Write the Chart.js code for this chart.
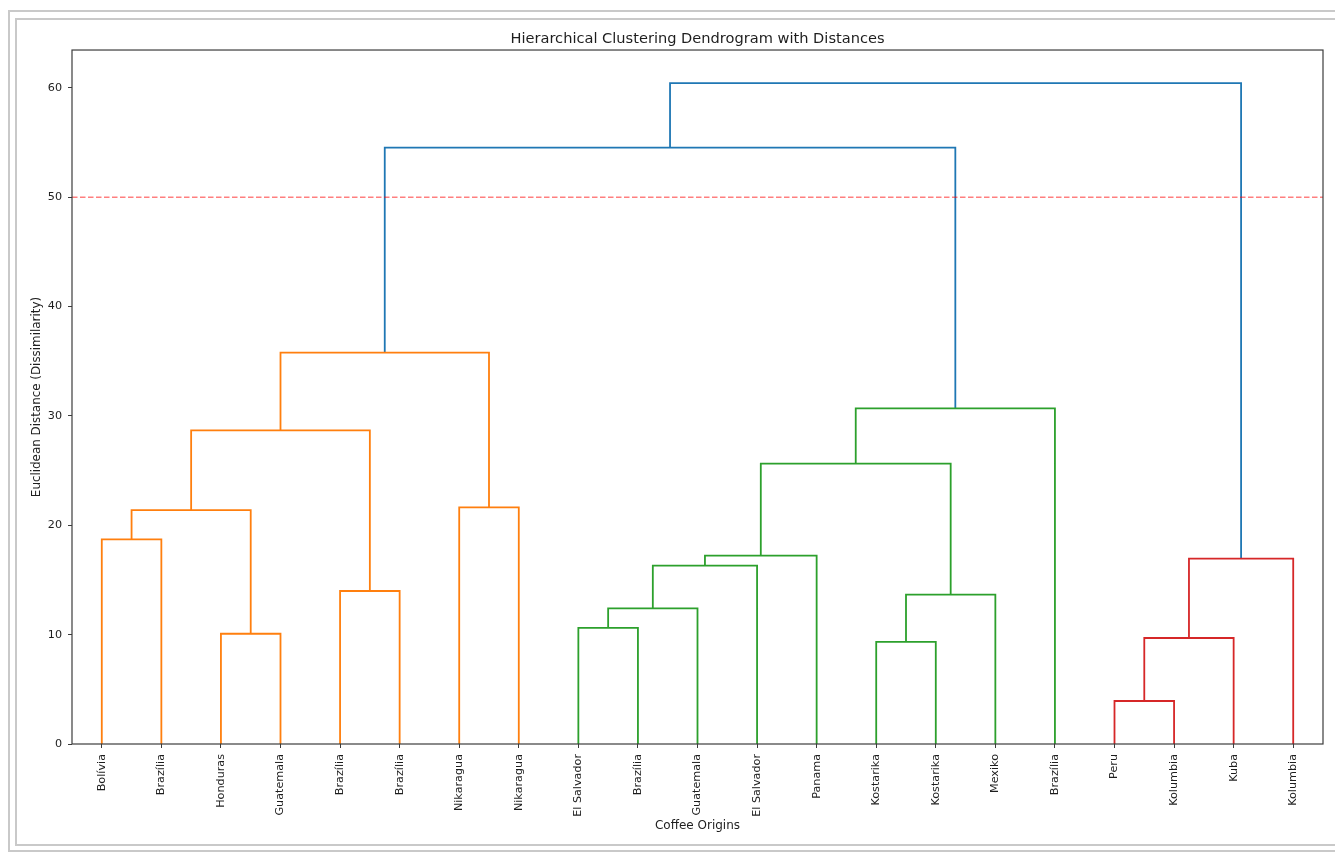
<!DOCTYPE html>
<html><head><meta charset="utf-8">
<script src="https://cdn.jsdelivr.net/npm/chart.js@4.4.0/dist/chart.umd.min.js"></script>
<style>
html,body{margin:0;padding:0;background:#fff;}
#wrap{position:relative;width:1335px;height:854px;overflow:hidden;background:#fff;}
canvas{position:absolute;left:0;top:0;}
.f{position:absolute;border:2px solid #c9c9c9;pointer-events:none;box-sizing:border-box;}
</style></head><body>
<div id="wrap">
<canvas id="c" width="1335" height="854"></canvas>
<div class="f" style="left:8px;top:10px;width:1340px;height:842px"></div>
<div class="f" style="left:15px;top:18px;width:1330px;height:828px"></div>
</div>
<script>
// Leaves in dendrogram order
const leafLabels = ['Bolívia','Brazília','Honduras','Guatemala','Brazília','Brazília','Nikaragua','Nikaragua',
  'El Salvador','Brazília','Guatemala','El Salvador','Panama','Kostarika','Kostarika','Mexiko','Brazília',
  'Peru','Kolumbia','Kuba','Kolumbia'];
// Merges (scipy-like): node ids 0..20 are leaves, 21+ are merges in this order
const mergeLeft   = [17, 13, 21,  2,  8, 25, 22,  4, 26, 23, 29,  0, 32,  6, 31, 33, 35, 36, 38, 39];
const mergeRight  = [18, 14, 19,  3,  9, 10, 15,  5, 11, 20, 12,  1, 24,  7, 27, 28, 16, 34, 37, 30];
const mergeHeight = [3.93, 9.33, 9.69, 10.08, 10.61, 12.40, 13.65, 13.99, 16.30, 16.94, 17.22, 18.71,
  21.39, 21.64, 25.63, 28.68, 30.69, 35.78, 54.52, 60.43];
const cutHeight = 50;
const yTicks = [0, 10, 20, 30, 40, 50, 60];

const palette = ['#ff7f0e', '#2ca02c', '#d62728', '#9467bd', '#8c564b'];
const aboveColor = '#1f77b4';
const FONT = 'DejaVu Sans';
const TXT = '#1e1e1e';
const AX = '#3c3c3c';

const n = leafLabels.length;
const leafPos = leafLabels.map((_, i) => 5 + 10 * i);
const nodeX = leafPos.slice();
const nodeH = leafLabels.map(() => 0);
mergeLeft.forEach((l, k) => {
  nodeX.push((nodeX[l] + nodeX[mergeRight[k]]) / 2);
  nodeH.push(mergeHeight[k]);
});
const maxH = Math.max(...mergeHeight);
const colorThreshold = 0.7 * maxH;
// cluster colouring: find roots below threshold, assign colours by leftmost leaf
const parent = {};
mergeLeft.forEach((l, k) => { parent[l] = n + k; parent[mergeRight[k]] = n + k; });
function minLeaf(id) { return id < n ? id : Math.min(minLeaf(mergeLeft[id - n]), minLeaf(mergeRight[id - n])); }
const roots = [];
mergeHeight.forEach((h, k) => {
  const id = n + k;
  if (h < colorThreshold && !(parent[id] !== undefined && mergeHeight[parent[id] - n] < colorThreshold)) roots.push(id);
});
roots.sort((a, b) => minLeaf(a) - minLeaf(b));
const rootColor = {};
roots.forEach((r, i) => rootColor[r] = palette[i % palette.length]);
function linkColor(id) {
  if (mergeHeight[id - n] >= colorThreshold) return aboveColor;
  let cur = id;
  while (rootColor[cur] === undefined) cur = parent[cur];
  return rootColor[cur];
}

const datasets = [{
  data: [{x: 0, y: cutHeight}, {x: 10 * n, y: cutHeight}],
  borderColor: 'rgba(255,0,0,0.5)', borderWidth: 1.5, borderDash: [5.5, 2.5],
  showLine: true, pointRadius: 0, fill: false
}];
mergeLeft.forEach((l, k) => {
  const r = mergeRight[k], id = n + k;
  datasets.push({
    data: [{x: nodeX[l], y: nodeH[l]}, {x: nodeX[l], y: nodeH[id]}, {x: nodeX[r], y: nodeH[id]}, {x: nodeX[r], y: nodeH[r]}],
    borderColor: linkColor(id), borderWidth: 1.8, showLine: true, pointRadius: 0, fill: false, tension: 0
  });
});

const frame = {
  id: 'frame',
  afterDraw(chart) {
    const {ctx, chartArea: a} = chart;
    ctx.save();
    ctx.strokeStyle = AX; ctx.lineWidth = 1.2;
    ctx.strokeRect(a.left, a.top, a.right - a.left, a.bottom - a.top);
    ctx.restore();
  }
};

new Chart(document.getElementById('c'), {
  type: 'scatter',
  data: {datasets},
  plugins: [frame],
  options: {
    responsive: false, animation: false, devicePixelRatio: 1,
    layout: {padding: {left: 0, right: 12, top: 0, bottom: 0}},
    plugins: {
      legend: {display: false}, tooltip: {enabled: false},
      title: {display: true, text: 'Hierarchical Clustering Dendrogram with Distances', fullSize: false,
        font: {family: FONT, size: 14.6, weight: 'normal'}, color: TXT, padding: {top: 30, bottom: 2.5}}
    },
    scales: {
      x: {
        type: 'linear', min: 0, max: 10 * n,
        afterFit(s) { s.height = 110; },
        afterBuildTicks(s) { s.ticks = leafPos.map(v => ({value: v})); },
        ticks: {autoSkip: false, minRotation: 90, maxRotation: 90, padding: 6, color: TXT,
          font: {family: FONT, size: 11.2}, callback: (v, i) => leafLabels[i]},
        grid: {drawOnChartArea: false, drawTicks: true, tickLength: 4, tickColor: AX, tickWidth: 1},
        border: {display: false},
        title: {display: true, text: 'Coffee Origins', color: TXT, font: {family: FONT, size: 12},
          padding: {top: 0, bottom: 21}}
      },
      y: {
        min: 0, max: maxH * 1.05,
        afterFit(s) { s.width = 72; },
        afterBuildTicks(s) { s.ticks = yTicks.map(v => ({value: v})); },
        ticks: {padding: 6, color: TXT, font: {family: FONT, size: 11.2}},
        grid: {drawOnChartArea: false, drawTicks: true, tickLength: 4, tickColor: AX, tickWidth: 1},
        border: {display: false},
        title: {display: true, text: 'Euclidean Distance (Dissimilarity)', color: TXT, font: {family: FONT, size: 11.9},
          padding: {top: 29.5, bottom: 0}}
      }
    }
  }
});
</script>
</body></html>
